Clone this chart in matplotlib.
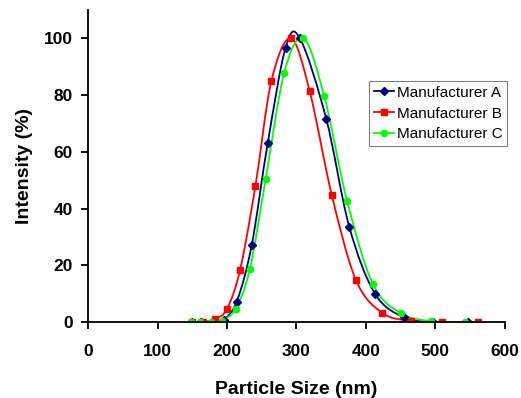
import matplotlib.pyplot as plt
import numpy as np
from matplotlib.path import Path
from matplotlib.patches import PathPatch

# particle size (nm) / intensity (%)
size_a = [149, 163, 178, 195, 214, 235.5, 258.6, 284.4, 305, 343, 376, 413, 455, 497, 547]
int_a = [0, 0, 0, 0.8, 7.2, 27, 63, 96.7, 100, 71.5, 33.6, 10, 1.6, 0, 0]

size_b = [150, 166, 183, 200, 219, 241, 264, 292, 319, 351, 385.6, 423, 465, 510, 562]
int_b = [0, 0, 1, 4.6, 18.5, 48, 85, 100, 81.4, 44.6, 14.8, 3.3, 0.3, 0, 0]

size_c = [148, 161, 176.5, 192.4, 212.5, 233, 255.7, 282.4, 310, 340, 373, 410, 450, 493.5, 542]
int_c = [0, 0, 0, 0.5, 4.7, 18.8, 50.4, 87.8, 100, 79.6, 42.6, 13.4, 3.1, 0.3, 0]

names = ["Manufacturer A", "Manufacturer B", "Manufacturer C"]
colors = ["#000080", "#FF0000", "#00FF00"]
markers = ["D", "s", "o"]
msizes = [4, 5, 4.5]

plt.rcParams['font.family'] = ['Liberation Sans', 'DejaVu Sans']


def smooth_path(x, y):
    # Excel-style smoothed line: cubic bezier through the points
    x = np.asarray(x, float)
    y = np.asarray(y, float)
    n = len(x)
    verts = [(x[0], y[0])]
    codes = [Path.MOVETO]
    for i in range(n - 1):
        p0 = np.array([x[max(i - 1, 0)], y[max(i - 1, 0)]])
        p1 = np.array([x[i], y[i]])
        p2 = np.array([x[i + 1], y[i + 1]])
        p3 = np.array([x[min(i + 2, n - 1)], y[min(i + 2, n - 1)]])
        c1 = p1 + (p2 - p0) / 6
        c2 = p2 - (p3 - p1) / 6
        verts += [tuple(c1), tuple(c2), tuple(p2)]
        codes += [Path.CURVE4] * 3
    return Path(verts, codes)


fig = plt.figure(figsize=(5.21, 3.98), dpi=100)
ax = fig.add_axes([0.169, 0.191, 0.800, 0.784])

for xs, ys, name, c, m, ms in zip([size_a, size_b, size_c], [int_a, int_b, int_c],
                                  names, colors, markers, msizes):
    ax.add_patch(PathPatch(smooth_path(xs, ys), facecolor="none", edgecolor=c, lw=1.3))
    ax.plot(xs, ys, linestyle="none", marker=m, color=c, markersize=ms)
    ax.plot([], [], color=c, marker=m, markersize=ms, lw=1.3, label=name)

ax.set_xlim(0, 600)
ax.set_ylim(0, 110)
ax.set_xticks(range(0, 601, 100))
ax.set_yticks(range(0, 101, 20))
ax.spines["top"].set_visible(False)
ax.spines["right"].set_visible(False)
ax.spines["left"].set_linewidth(1.3)
ax.spines["bottom"].set_linewidth(1.3)
ax.tick_params(direction="out", length=5, width=1.3, labelsize=12.5)
ax.tick_params(axis="x", pad=11)
ax.tick_params(axis="y", pad=6)
for lbl in ax.get_xticklabels() + ax.get_yticklabels():
    lbl.set_fontweight("bold")

ax.set_xlabel("Particle Size (nm)", fontsize=14, fontweight="bold", labelpad=16)
ax.set_ylabel("Intensity (%)", fontsize=14, fontweight="bold", labelpad=8)

leg = ax.legend(loc="upper right", bbox_to_anchor=(1.005, 0.772), borderaxespad=0,
                fontsize=11, fancybox=False, framealpha=1, edgecolor="#808080",
                handlelength=1.3, borderpad=0.3, labelspacing=0.45, handletextpad=0.2)
leg.get_frame().set_linewidth(0.8)

fig.savefig("out.png", dpi=100)
